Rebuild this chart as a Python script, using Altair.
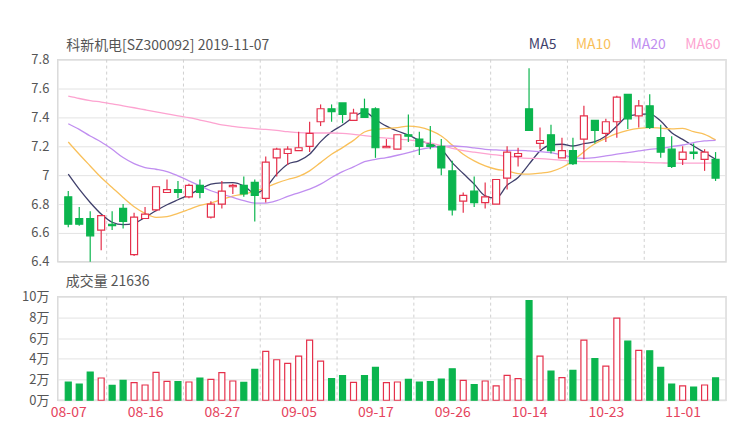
import altair as alt
import pandas as pd

# ---- data ----
opens = [6.85, 6.70, 6.70, 6.62, 6.66, 6.77, 6.45, 6.70, 6.76, 6.88,
         6.90, 6.85, 6.93, 6.71, 6.80, 6.92, 6.93, 6.95, 6.84, 7.12,
         7.15, 7.17, 7.20, 7.37, 7.46, 7.50, 7.38, 7.46, 7.46, 7.19,
         7.18, 7.28, 7.25, 7.21, 7.20, 7.03, 6.82, 6.89, 6.81, 6.80,
         6.98, 7.13, 7.46, 7.22, 7.28, 7.12, 7.17, 7.25, 7.38, 7.29,
         7.37, 7.56, 7.41, 7.48, 7.26, 7.18, 7.11, 7.16, 7.11, 7.11]
closes = [6.66, 6.66, 6.58, 6.72, 6.65, 6.68, 6.71, 6.73, 6.92, 6.90,
          6.88, 6.93, 6.88, 6.80, 6.89, 6.93, 6.87, 6.86, 7.09, 7.18,
          7.18, 7.19, 7.29, 7.46, 7.44, 7.42, 7.43, 7.40, 7.19, 7.20,
          7.28, 7.27, 7.20, 7.20, 7.05, 6.76, 6.86, 6.81, 6.85, 6.97,
          7.16, 7.15, 7.31, 7.24, 7.17, 7.17, 7.08, 7.41, 7.31, 7.37,
          7.54, 7.39, 7.48, 7.33, 7.16, 7.06, 7.16, 7.15, 7.16, 6.98]
highs = [6.89, 6.78, 6.75, 6.72, 6.75, 6.80, 6.74, 6.78, 6.92, 6.97,
         6.96, 6.94, 6.97, 6.82, 6.96, 6.94, 6.99, 6.97, 7.13, 7.19,
         7.20, 7.30, 7.37, 7.49, 7.49, 7.50, 7.46, 7.53, 7.47, 7.25,
         7.28, 7.42, 7.30, 7.34, 7.25, 7.10, 6.88, 6.99, 6.95, 6.97,
         7.20, 7.19, 7.74, 7.33, 7.35, 7.26, 7.26, 7.48, 7.38, 7.39,
         7.55, 7.56, 7.52, 7.56, 7.35, 7.27, 7.20, 7.22, 7.18, 7.16]
lows = [6.64, 6.65, 6.40, 6.48, 6.62, 6.63, 6.44, 6.70, 6.75, 6.88,
        6.84, 6.84, 6.84, 6.70, 6.77, 6.87, 6.85, 6.68, 6.81, 6.99,
        7.07, 7.17, 7.16, 7.34, 7.37, 7.36, 7.38, 7.40, 7.12, 7.19,
        7.18, 7.23, 7.14, 7.18, 7.00, 6.72, 6.74, 6.78, 6.77, 6.80,
        6.90, 7.06, 7.31, 7.18, 7.15, 7.12, 7.07, 7.11, 7.22, 7.23,
        7.26, 7.32, 7.33, 7.32, 7.12, 7.05, 7.07, 7.11, 7.03, 6.96]
volumes_wan = [1.76, 1.57, 2.72, 2.15, 1.44, 1.92, 1.70, 1.47, 2.69, 1.83,
               1.79, 1.76, 2.15, 2.02, 2.66, 1.86, 1.73, 2.98, 4.71, 3.91,
               3.56, 4.26, 5.80, 3.78, 2.08, 2.37, 1.73, 2.37, 3.17, 1.70,
               1.76, 2.02, 1.76, 1.79, 2.05, 3.04, 1.92, 1.51, 1.86, 1.38,
               2.40, 2.08, 9.62, 4.26, 2.82, 2.18, 2.88, 5.80, 4.01, 3.30,
               7.92, 5.71, 4.81, 4.78, 3.17, 1.57, 1.38, 1.28, 1.47, 2.16]
ma5 = [7.007, 6.903, 6.811, 6.731, 6.674, 6.657, 6.667, 6.708, 6.754, 6.795,
       6.830, 6.864, 6.903, 6.938, 6.947, 6.949, 6.926, 6.874, 6.915, 7.007,
       7.076, 7.099, 7.145, 7.232, 7.301, 7.347, 7.402, 7.439, 7.386, 7.340,
       7.306, 7.278, 7.241, 7.214, 7.179, 7.087, 7.011, 6.938, 6.857, 6.841,
       6.930, 6.984, 7.076, 7.168, 7.209, 7.214, 7.202, 7.218, 7.232, 7.271,
       7.340, 7.409, 7.421, 7.425, 7.375, 7.294, 7.248, 7.202, 7.156, 7.110]
ma10 = [7.230, 7.145, 7.064, 6.984, 6.915, 6.846, 6.782, 6.736, 6.708, 6.713,
        6.736, 6.763, 6.791, 6.807, 6.832, 6.855, 6.869, 6.887, 6.915, 6.945,
        6.970, 6.991, 7.030, 7.087, 7.145, 7.191, 7.241, 7.299, 7.317, 7.324,
        7.329, 7.340, 7.333, 7.310, 7.271, 7.209, 7.145, 7.099, 7.064, 7.041,
        7.030, 7.011, 7.007, 7.014, 7.025, 7.053, 7.099, 7.163, 7.218, 7.255,
        7.287, 7.310, 7.324, 7.329, 7.326, 7.320, 7.324, 7.301, 7.283, 7.244]
ma20 = [7.356, 7.317, 7.271, 7.230, 7.179, 7.122, 7.080, 7.053, 7.041, 7.025,
        6.995, 6.961, 6.926, 6.892, 6.869, 6.846, 6.823, 6.807, 6.807, 6.823,
        6.853, 6.878, 6.903, 6.938, 6.984, 7.025, 7.057, 7.094, 7.110, 7.122,
        7.138, 7.156, 7.177, 7.191, 7.200, 7.202, 7.198, 7.189, 7.179, 7.175,
        7.172, 7.172, 7.168, 7.163, 7.156, 7.140, 7.122, 7.117, 7.122, 7.133,
        7.145, 7.156, 7.168, 7.179, 7.186, 7.198, 7.209, 7.225, 7.237, 7.241]
ma60 = [7.547, 7.531, 7.517, 7.506, 7.494, 7.480, 7.467, 7.453, 7.439, 7.425,
        7.411, 7.398, 7.382, 7.366, 7.349, 7.338, 7.329, 7.322, 7.317, 7.310,
        7.301, 7.294, 7.292, 7.292, 7.292, 7.290, 7.283, 7.274, 7.264, 7.257,
        7.251, 7.244, 7.234, 7.223, 7.205, 7.186, 7.170, 7.159, 7.149, 7.140,
        7.131, 7.122, 7.117, 7.115, 7.110, 7.103, 7.097, 7.094, 7.094, 7.094,
        7.094, 7.092, 7.090, 7.087, 7.085, 7.083, 7.083, 7.083, 7.083, 7.085]
tick_idx = [0, 7, 14, 21, 28, 35, 42, 49, 56]
tick_labels = ["08-07", "08-16", "08-27", "09-05", "09-17", "09-26", "10-14", "10-23", "11-01"]
price_ticks = [6.4, 6.6, 6.8, 7.0, 7.2, 7.4, 7.6, 7.8]
vol_ticks = [0, 2, 4, 6, 8, 10]
ma_names = ["MA5", "MA10", "MA20", "MA60"]
ma_colors = ["#3f3f6b", "#f9c05a", "#c08ef0", "#fda3d0"]

RED = "#e5304b"
GREEN = "#0bb54e"
FONT = "Noto Sans CJK SC"
N = len(opens)

df = pd.DataFrame({
    "i": list(range(N)),
    "open": opens, "close": closes, "high": highs, "low": lows,
    "vol": volumes_wan,
})

ma_df = pd.concat([
    pd.DataFrame({"i": list(range(N)), "name": n, "v": vals})
    for n, vals in zip(ma_names, [ma5, ma10, ma20, ma60])
])
grid_df = pd.DataFrame({"g": [t + 3.5 for t in tick_idx[:-1]]})

xscale = alt.Scale(domain=[-0.5, N - 0.5], nice=False, zero=False)
pscale = alt.Scale(domain=[6.4, 7.8], nice=False, zero=False)
vscale = alt.Scale(domain=[0, 10], nice=False)
up_cond = "datum.close >= datum.open"

price_axis = alt.Axis(values=price_ticks, format="~g", title=None, ticks=False, domain=False,
                      grid=True, gridColor="#e3e3e3", labelColor="#555", labelFontSize=13,
                      labelFont=FONT, labelPadding=9, minExtent=36, maxExtent=36,
                      labelOverlap=False)

top_x_axis = alt.Axis(orient="top", labels=False, ticks=False, domain=False, grid=False,
                      title="科新机电[SZ300092] 2019-11-07", titleX=8, titleY=-14,
                      titleAlign="left", titleBaseline="middle", titleAngle=0,
                      titleFont=FONT, titleFontSize=14, titleFontWeight="normal",
                      titleColor="#555")

label_expr = "[" + ",".join(f"'{t}'" for t in tick_labels) + "][indexof([" + \
    ",".join(str(t) for t in tick_idx) + "], datum.value)]"

bottom_x_axis = alt.Axis(values=tick_idx, labelExpr=label_expr, title=None, ticks=False,
                         domain=False, grid=False, labelColor="#e5435d", labelFontSize=14,
                         labelFont=FONT, labelPadding=5, labelOverlap=False)

vol_axis = alt.Axis(values=vol_ticks, labelExpr="datum.value + '万'", title=None,
                    ticks=False, domain=False, grid=True, gridColor="#e3e3e3",
                    labelColor="#555", labelFontSize=13, labelFont=FONT, labelPadding=9,
                    minExtent=36, maxExtent=36, labelOverlap=False)

ma_color_expr = " : ".join(
    f"datum.value == '{n}' ? '{c}'" for n, c in zip(ma_names, ma_colors)
) + " : '#555'"

# ---- top panel: price ----
vgrid_top = alt.Chart(grid_df).mark_rule(color="#d0d0d0", strokeDash=[3, 3], strokeWidth=1).encode(
    x=alt.X("g:Q", scale=xscale, axis=top_x_axis),
)

lines = alt.Chart(ma_df).mark_line(strokeWidth=1.3, interpolate="monotone").encode(
    x=alt.X("i:Q", scale=xscale, axis=top_x_axis),
    y=alt.Y("v:Q", scale=pscale, axis=price_axis),
    color=alt.Color("name:N", scale=alt.Scale(domain=ma_names, range=ma_colors),
                    legend=alt.Legend(title=None, orient="none", legendX=459, legendY=-22,
                                      direction="horizontal", symbolSize=1, symbolOpacity=0,
                                      symbolStrokeWidth=0, labelOffset=0, columnPadding=5,
                                      labelFontSize=14, labelFont=FONT, padding=0,
                                      labelColor={"expr": ma_color_expr})),
    order="i:Q",
)

wicks = alt.Chart(df).mark_rule(strokeWidth=1.2).encode(
    x=alt.X("i:Q", scale=xscale, axis=top_x_axis),
    y=alt.Y("low:Q", scale=pscale, axis=price_axis), y2="high:Q",
    color=alt.condition(up_cond, alt.value(RED), alt.value(GREEN)),
)
bodies = alt.Chart(df).mark_bar(size=7, strokeWidth=1.2).encode(
    x=alt.X("i:Q", scale=xscale, axis=top_x_axis),
    y=alt.Y("open:Q", scale=pscale, axis=price_axis), y2="close:Q",
    fill=alt.condition(up_cond, alt.value("white"), alt.value(GREEN)),
    stroke=alt.condition(up_cond, alt.value(RED), alt.value(GREEN)),
)

top = alt.layer(vgrid_top, lines, wicks, bodies).properties(width=671, height=203)

# ---- bottom panel: volume ----
vgrid_bot = alt.Chart(grid_df).mark_rule(color="#d0d0d0", strokeDash=[3, 3], strokeWidth=1).encode(
    x=alt.X("g:Q", scale=xscale, axis=bottom_x_axis),
)

vbars = alt.Chart(df).mark_bar(size=6, strokeWidth=1.2).encode(
    x=alt.X("i:Q", scale=xscale, axis=bottom_x_axis),
    y=alt.Y("vol:Q", scale=vscale, axis=vol_axis),
    fill=alt.condition(up_cond, alt.value("white"), alt.value(GREEN)),
    stroke=alt.condition(up_cond, alt.value(RED), alt.value(GREEN)),
)

bottom = alt.layer(vgrid_bot, vbars).properties(
    width=671, height=104,
    title=alt.TitleParams("成交量 21636", anchor="start", frame="group",
                          dx=8, offset=2, fontSize=14, font=FONT, fontWeight="normal", color="#555"),
)

chart = alt.vconcat(top, bottom, spacing=4).resolve_scale(
    color="independent"
).resolve_legend(color="independent").properties(
    padding={"left": 12, "top": 28, "right": 5, "bottom": 5}
).configure_view(stroke="#dadada", strokeWidth=1.5)

chart.save("out.html", embed_options={"renderer": "svg", "actions": False})
